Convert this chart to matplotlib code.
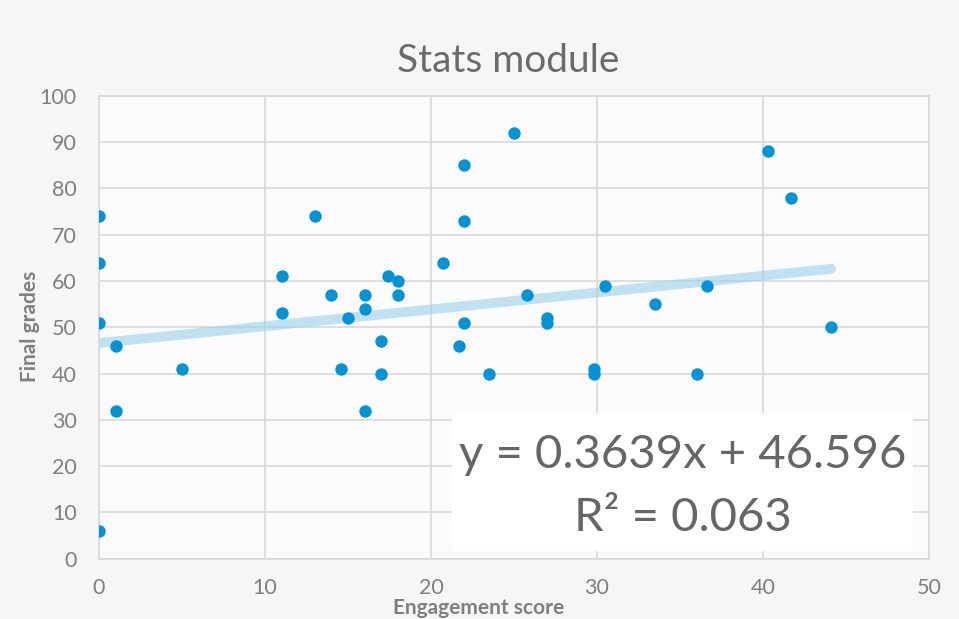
import numpy as np
import matplotlib.pyplot as plt

# engagement score vs final grade
engagement = [0, 0, 0, 0, 1, 1, 5, 11, 11, 13, 14, 14.6, 15, 16, 16, 16,
              17, 17, 17.4, 18, 18, 20.7, 21.7, 22, 22, 22, 23.5, 25, 25.8,
              27, 27, 29.8, 29.8, 30.5, 33.5, 36, 36.6, 40.3, 41.7, 44.1]
grades = [74, 64, 51, 6, 46, 32, 41, 61, 53, 74, 57, 41, 52, 57, 54, 32,
          47, 40, 61, 60, 57, 64, 46, 85, 73, 51, 40, 92, 57,
          52, 51, 41, 40, 59, 55, 40, 59, 88, 78, 50]
slope = 0.3639
intercept = 46.596
r_squared = 0.063

x_ticks = [0, 10, 20, 30, 40, 50]
y_ticks = [0, 10, 20, 30, 40, 50, 60, 70, 80, 90, 100]

GRAY = '#7f7f7f'
plt.rcParams['font.family'] = ['Lato', 'DejaVu Sans']

fig = plt.figure(figsize=(9.59, 6.19), dpi=100, facecolor='#f6f6f6')
ax = fig.add_axes([0.1032, 0.0974, 0.8655, 0.7476])
ax.set_facecolor('#fbfbfb')

# trendline, drawn from 0 to the max x like excel does
tx = np.array([0, max(engagement)])
ax.plot(tx, slope * tx + intercept, color='#9fd3ee', alpha=0.65, lw=7,
        solid_capstyle='round', zorder=2)
ax.scatter(engagement, grades, s=80, color='#0494d6', zorder=3, linewidths=0)

ax.set_xlim(0, 50)
ax.set_ylim(0, 100)
ax.set_xticks(x_ticks)
ax.set_yticks(y_ticks)
ax.grid(True, color='#d9d9d9', lw=1.2)
ax.set_axisbelow(True)
for s in ax.spines.values():
    s.set_color('#d9d9d9')
    s.set_linewidth(1.2)
ax.tick_params(length=0, labelsize=15.5, labelcolor=GRAY)
ax.tick_params(axis='y', pad=16)
ax.tick_params(axis='x', pad=14)

fig.text(0.53, 0.901, 'Stats module', ha='center', va='center',
         fontsize=28, color='#6b6b6b')
fig.text(0.499, 0.017, 'Engagement score', ha='center', va='center',
         fontsize=15, fontweight='bold', color=GRAY)
fig.text(0.031, 0.473, 'Final grades', ha='center', va='center',
         rotation=90, fontsize=15, fontweight='bold', color=GRAY)

# equation label box
fig.patches.append(plt.Rectangle((0.4713, 0.11), 0.4807, 0.222,
                                 transform=fig.transFigure, facecolor='white',
                                 edgecolor='none', zorder=5))
fig.text(0.712, 0.265, f'y = {slope}x + {intercept}', ha='center',
         va='center', fontsize=34, color='#666666', zorder=6)
fig.text(0.712, 0.163, f'R² = {r_squared}', ha='center', va='center',
         fontsize=34, color='#666666', zorder=6)

fig.savefig('out.png', dpi=100, facecolor=fig.get_facecolor())
